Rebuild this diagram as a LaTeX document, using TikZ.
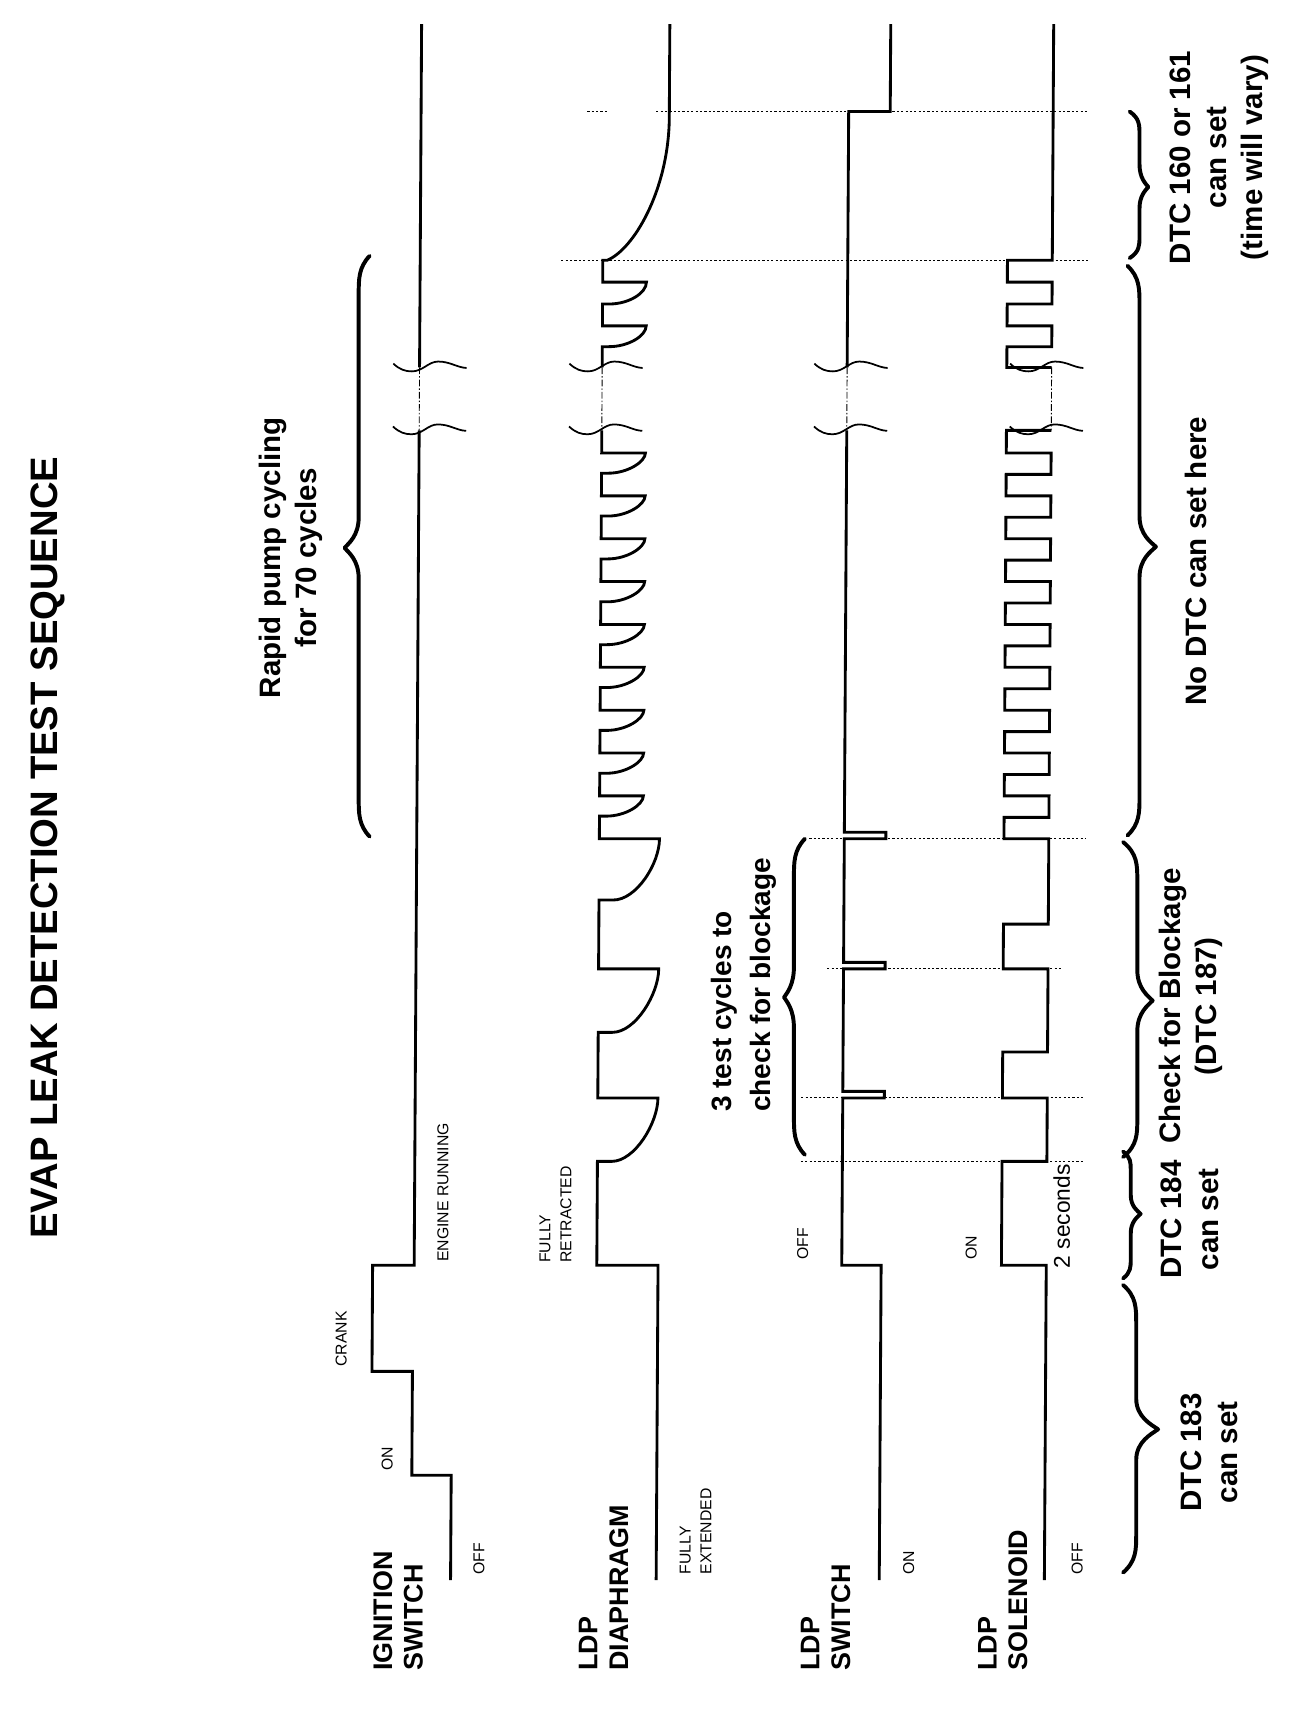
\documentclass[tikz,border=0pt]{standalone}
\usepackage{fontspec}
\setmainfont{Liberation Sans}
\newcommand{\BreakMark}[2]{\draw[brk] (#1,{#2-3.5}) .. controls ({#1+6},{#2+2}) and ({#1+11},{#2+3.6}) .. ({#1+17},{#2+3.6}) .. controls ({#1+27},{#2+3.6}) and ({#1+32},{#2-5.4}) .. ({#1+41},{#2-5.4}) .. controls ({#1+52},{#2-5.4}) and ({#1+58},{#2}) .. ({#1+67},{#2+0.5});}
\newcommand{\DrawBrace}[6]{%
 \pgfmathsetmacro{\ba}{min(35,0.3*(#3-#1))}%
 \pgfmathsetmacro{\bb}{min(28,0.3*(#3-#1))}%
 \pgfmathsetmacro{\bc}{min(35,0.3*(#2-#3))}%
 \pgfmathsetmacro{\bd}{min(28,0.3*(#2-#3))}%
 \draw[bracestyle] (#6,#1) .. controls (#4,{#1+0.3*\ba}) and (#4,{#1+0.6*\ba}) .. (#4,{#1+\ba}) -- (#4,{#3-\bb}) .. controls (#4,{#3-0.4*\bb}) and ({#5+0.3*(#4-#5)},{#3-0.15*\bb}) .. (#5,#3) .. controls ({#5+0.3*(#4-#5)},{#3+0.15*\bd}) and (#4,{#3+0.4*\bd}) .. (#4,{#3+\bd}) -- (#4,{#2-\bc}) .. controls (#4,{#2-0.6*\bc}) and (#4,{#2-0.3*\bc}) .. (#6,#2);}
\begin{document}
\begin{tikzpicture}[x=0.5pt,y=-0.5pt,
  sig/.style={line width=1.3pt, line join=miter},
  brk/.style={line width=0.8pt},
  brkline/.style={line width=0.4pt, dash pattern=on 3pt off 1pt on 0.6pt off 1pt},
  dots/.style={line width=0.45pt, dash pattern=on 1pt off 1pt},
  bracestyle/.style={line width=1.8pt, line cap=round, line join=round},
  biglbl/.style={rotate=90, anchor=west, align=left, inner sep=0pt, font=\fontsize{12.3}{14}\selectfont\bfseries},
  small/.style={rotate=90, anchor=west, align=left, inner sep=0pt, font=\fontsize{7.2}{9.5}\selectfont},
  note/.style={rotate=90, align=center, inner sep=0pt, font=\fontsize{13.5}{16.5}\selectfont\bfseries}]
\useasboundingbox (0,0) rectangle (1200,1571);
\fill[white] (0,0) rectangle (1200,1571);

% title
\node[rotate=90, anchor=west, inner sep=0pt, font=\fontsize{17.5}{20}\selectfont\bfseries] (title) at (44,1133) {EVAP LEAK DETECTION TEST SEQUENCE};

% row labels
\node[biglbl] (lIgn) at (364,1528) {IGNITION\\SWITCH};
\node[biglbl] (lDia) at (552,1528) {LDP\\DIAPHRAGM};
\node[biglbl] (lSw) at (755,1528) {LDP\\SWITCH};
\node[biglbl] (lSol) at (917,1528) {LDP\\SOLENOID};

% level labels
\node[small] (iOff) at (438,1440) {OFF};
\node[small] (iOn) at (354,1345) {ON};
\node[small] (iCrank) at (312,1250) {CRANK};
\node[small] (iRun) at (405,1154) {ENGINE RUNNING};
\node[small] (dRet) at (508,1155) {FULLY\\RETRACTED};
\node[small] (dExt) at (636,1440) {FULLY\\EXTENDED};
\node[small] (sOff) at (734,1152) {OFF};
\node[small] (sOn) at (831,1440) {ON};
\node[small] (oOn) at (888,1152) {ON};
\node[small] (oOff) at (985,1440) {OFF};
\node[rotate=90, anchor=west, inner sep=0pt, font=\fontsize{10.4}{12}\selectfont] (twosec) at (971,1160) {2 seconds};

% notes
\node[note] (rapid) at (266,510) {Rapid pump cycling\\for 70 cycles};
\node[rotate=90, anchor=west, align=left, inner sep=0pt, font=\fontsize{12.8}{18}\selectfont\bfseries] (three) at (680,1017) {3 test cycles to\\check for blockage};
\node[note] (n183) at (1106,1328) {DTC 183\\can set};
\node[note] (n184) at (1088,1115) {DTC 184\\can set};
\node[note] (nchk) at (1089,920) {Check for Blockage\\(DTC 187)};
\node[note] (nno) at (1094,513) {No DTC can set here};
\node[note] (n160) at (1115,144) {DTC 160 or 161\\can set\\(time will vary)};

% braces
\DrawBrace{234}{765}{501}{328}{315}{338}
\DrawBrace{767}{1056}{912}{726}{717}{736}
\DrawBrace{102}{236}{171}{1042}{1050}{1033}
\DrawBrace{243}{764}{500}{1042}{1057}{1031}
\DrawBrace{770}{1058}{915}{1040}{1054}{1027}
\DrawBrace{1053}{1169}{1110}{1034}{1043}{1027}
\DrawBrace{1175}{1438}{1307}{1039}{1059}{1027}

\begin{scope}[cm={1,0,0.006,1,(4.335pt,0pt)}]
% dotted time markers
\draw[dots] (730,1062) -- (988,1062);
\draw[dots] (730,1004) -- (988,1004);
\draw[dots] (753,886) -- (967,886);
\draw[dots] (736,767) -- (989,767);
\draw[dots] (506,238) -- (990,238);
\draw[dots] (529,102) -- (548,102);
\draw[dots] (592,102) -- (987,102);

% ignition switch
\draw[sig] (412,1445) -- (412,1349) -- (376,1349) -- (376,1254) -- (339,1254) -- (339,1157) -- (377,1157) -- (377,393.5);
\draw[sig] (377,336) -- (377,22);

% LDP diaphragm
\draw[sig] (600,1445) -- (600,1157) -- (544,1157) -- (544,1062)
  -- (557,1062) .. controls (578,1062) and (599,1027) .. (599,1004) -- (544,1004)
  -- (544,944) -- (557,944) .. controls (578,944) and (599,909) .. (599,886) -- (544,886)
  -- (544,823) -- (557,823) .. controls (578,823) and (599,790) .. (599,767) -- (544,767)
  foreach \k in {1,...,9} { -- (544,{767-39.2*\k+18.5}) -- (550,{767-39.2*\k+18.5}) .. controls (568,{767-39.2*\k+18.5}) and (584,{767-39.2*\k+8}) .. (584,{767-39.2*\k}) -- (544,{767-39.2*\k}) }
  -- (544,393.5);
\draw[sig] (544,336) -- (544,317) -- (550,317) .. controls (568,317) and (584,307) .. (584,298) -- (544,298)
  -- (544,278) -- (550,278) .. controls (568,278) and (584,268) .. (584,258) -- (544,258)
  -- (544,238) -- (548,238) .. controls (572,228) and (603,175) .. (604,110) -- (604,22);

% LDP switch
\draw[sig] (804,1445) -- (804,1157) -- (768,1157) -- (768,1004) -- (806,1004) -- (806,998) -- (768,998)
  -- (768,886) -- (806,886) -- (806,880) -- (768,880)
  -- (768,767) -- (806,767) -- (806,761) -- (768,761) -- (768,393.5);
\draw[sig] (768,336) -- (768,102) -- (806,102) -- (806,22);

% LDP solenoid
\draw[sig] (955,1445) -- (955,1157) -- (914,1157) -- (914,1062) -- (955,1062) -- (955,1004) -- (914,1004)
  -- (914,962) -- (955,962) -- (955,886) -- (914,886) -- (914,845) -- (955,845) -- (955,767) -- (914,767)
  foreach \k in {1,...,9} { -- (914,{767-39.2*\k+19.6}) -- (955,{767-39.2*\k+19.6}) -- (955,{767-39.2*\k}) -- (914,{767-39.2*\k}) }
  -- (914,393.5) -- (955,393.5);
\draw[sig] (955,336) -- (914,336) -- (914,317) -- (955,317) -- (955,298) -- (914,298) -- (914,278) -- (955,278)
  -- (955,258) -- (914,258) -- (914,238) -- (955,238) -- (955,22);

% breaks
\draw[brkline] (377,336) -- (377,393.5);
\draw[brkline] (544,336) -- (544,393.5);
\draw[brkline] (768,336) -- (768,393.5);
\draw[brkline] (955,336) -- (955,393.5);
\BreakMark{353}{336}\BreakMark{353}{393.5}
\BreakMark{514}{336}\BreakMark{514}{393.5}
\BreakMark{738}{336}\BreakMark{738}{393.5}
\BreakMark{917}{336}\BreakMark{917}{393.5}
\end{scope}
\end{tikzpicture}
\end{document}
